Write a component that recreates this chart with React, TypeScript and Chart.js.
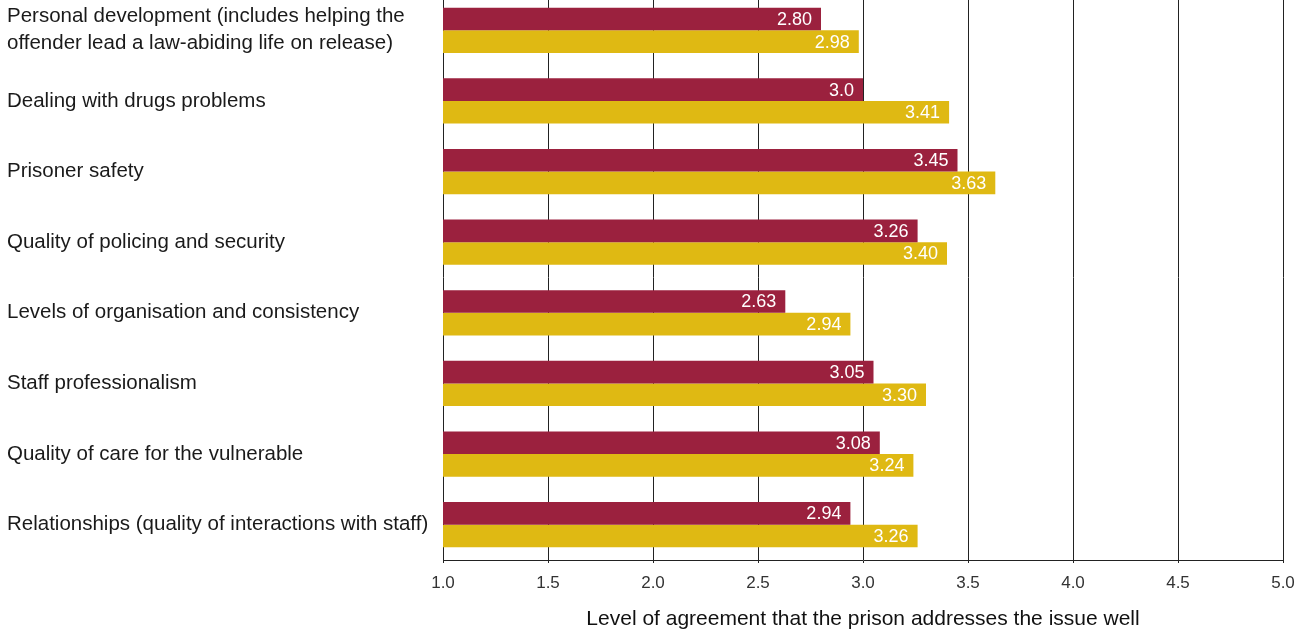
import React, { useEffect, useRef } from "react";
import { Chart, registerables } from "chart.js";

Chart.register(...registerables);

const categories: (string | string[])[] = [
  ["Personal development (includes helping the", "offender lead a law-abiding life on release)"],
  "Dealing with drugs problems",
  "Prisoner safety",
  "Quality of policing and security",
  "Levels of organisation and consistency",
  "Staff professionalism",
  "Quality of care for the vulnerable",
  "Relationships (quality of interactions with staff)",
];

const seriesA = [2.8, 3.0, 3.45, 3.26, 2.63, 3.05, 3.08, 2.94];
const seriesALabels = ["2.80", "3.0", "3.45", "3.26", "2.63", "3.05", "3.08", "2.94"];
const seriesB = [2.98, 3.41, 3.63, 3.4, 2.94, 3.3, 3.24, 3.26];
const seriesBLabels = ["2.98", "3.41", "3.63", "3.40", "2.94", "3.30", "3.24", "3.26"];

const xTitle = "Level of agreement that the prison addresses the issue well";
const xMin = 1.0;
const xMax = 5.0;
const xStep = 0.5;

const FONT = "'Liberation Sans', Arial, Helvetica, sans-serif";

const valueLabelPlugin = {
  id: "valueLabels",
  afterDatasetsDraw(chart: any) {
    const ctx = chart.ctx;
    ctx.save();
    ctx.fillStyle = "#ffffff";
    ctx.font = `18px ${FONT}`;
    ctx.textAlign = "right";
    ctx.textBaseline = "middle";
    chart.data.datasets.forEach((ds: any, di: number) => {
      const meta = chart.getDatasetMeta(di);
      meta.data.forEach((bar: any, i: number) => {
        const txt = ds.valueLabels[i];
        ctx.fillText(txt, bar.x - 9, bar.y + 1);
      });
    });
    ctx.restore();
  },
};

export default function App() {
  const ref = useRef<HTMLCanvasElement | null>(null);
  useEffect(() => {
    if (!ref.current) return;
    const chart = new Chart(ref.current, {
      type: "bar",
      data: {
        labels: categories,
        datasets: [
          {
            label: "A",
            data: seriesA,
            backgroundColor: "#9b213e",
            categoryPercentage: 0.64,
            barPercentage: 1.0,
            valueLabels: seriesALabels,
          } as any,
          {
            label: "B",
            data: seriesB,
            backgroundColor: "#dfb913",
            categoryPercentage: 0.64,
            barPercentage: 1.0,
            valueLabels: seriesBLabels,
          } as any,
        ],
      },
      options: {
        indexAxis: "y",
        animation: false,
        responsive: false,
        maintainAspectRatio: false,
        layout: { padding: { left: 7, right: 25, top: 0, bottom: 0 } },
        plugins: {
          legend: { display: false },
          tooltip: { enabled: false },
        },
        scales: {
          x: {
            min: xMin,
            max: xMax,
            grid: {
              color: "#222222",
              lineWidth: 1,
              tickLength: 3,
              drawTicks: true,
            },
            border: { display: true, color: "#222222" },
            ticks: {
              stepSize: xStep,
              padding: 10,
              color: "#333333",
              font: { size: 17, family: FONT },
              callback: (v: any) => Number(v).toFixed(1),
            },
            title: {
              display: true,
              text: xTitle,
              color: "#111111",
              font: { size: 21, family: FONT },
              padding: { top: 0, bottom: 0 },
            },
            afterFit: (scale: any) => {
              scale.height = 72;
              scale.paddingLeft = 0;
              scale.paddingRight = 0;
            },
          },
          y: {
            grid: { display: false },
            border: { display: false },
            ticks: {
              crossAlign: "far",
              color: "#1a1a1a",
              font: { size: 20.5, family: FONT, lineHeight: 1.32 },
              padding: 0,
            },
            afterFit: (scale: any) => {
              scale.width = 436;
              scale.paddingTop = 0;
              scale.paddingBottom = 0;
            },
          },
        },
      },
      plugins: [valueLabelPlugin],
    });
    return () => chart.destroy();
  }, []);
  return (
    <div style={{ position: "absolute", left: 0, top: -5, width: 1308, height: 637 }}>
      <canvas ref={ref} width={1308} height={637} style={{ width: 1308, height: 637, display: "block" }} />
    </div>
  );
}
